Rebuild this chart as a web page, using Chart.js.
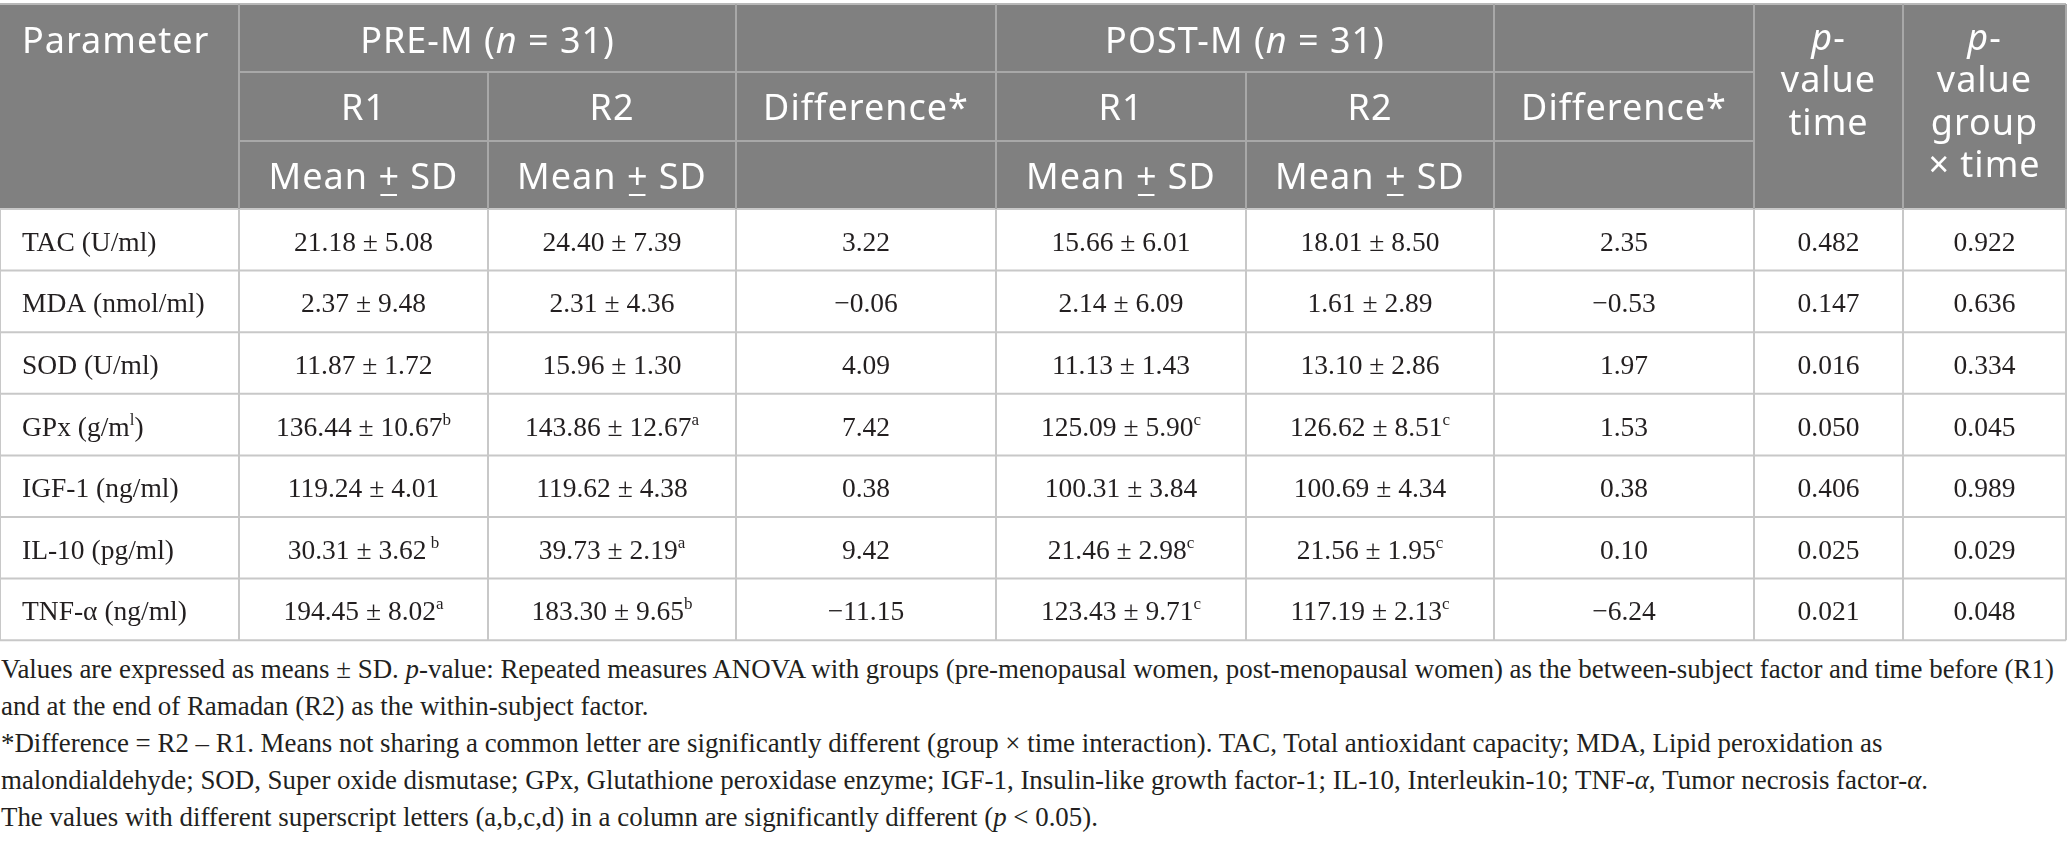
<!DOCTYPE html>
<html>
<head>
<meta charset="utf-8">
<script src="https://cdn.jsdelivr.net/npm/chart.js@4.4.1/dist/chart.umd.min.js"></script>
<style>
  html, body { margin: 0; padding: 0; background: #fff; overflow: hidden; }
  #wrap { position: relative; width: 2068px; height: 642px; }
  .notes {
    font-family: "Liberation Serif", "DejaVu Serif", serif;
    font-size: 26.9px;
    line-height: 37px;
    color: #231f20;
    white-space: nowrap;
    margin: 9px 0 0 1px;
  }
</style>
</head>
<body>
<div id="wrap"><canvas id="table-chart"></canvas></div>
<div class="notes">
  Values are expressed as means ± SD. <i>p</i>-value: Repeated measures ANOVA with groups (pre-menopausal women, post-menopausal women) as the between-subject factor and time before (R1)<br>
  and at the end of Ramadan (R2) as the within-subject factor.<br>
  *Difference = R2 – R1. Means not sharing a common letter are significantly different (group × time interaction). TAC, Total antioxidant capacity; MDA, Lipid peroxidation as<br>
  malondialdehyde; SOD, Super oxide dismutase; GPx, Glutathione peroxidase enzyme; IGF-1, Insulin-like growth factor-1; IL-10, Interleukin-10; TNF-<i>α</i>, Tumor necrosis factor-<i>α</i>.<br>
  The values with different superscript letters (a,b,c,d) in a column are significantly different (<i>p</i> &lt; 0.05).
</div>
<script>
// table data
const parameters = ["TAC (U/ml)", "MDA (nmol/ml)", "SOD (U/ml)", "GPx (g/m^l)", "IGF-1 (ng/ml)", "IL-10 (pg/ml)", "TNF-α (ng/ml)"];

const preR1Mean = [21.18, 2.37, 11.87, 136.44, 119.24, 30.31, 194.45];
const preR1Sd   = [5.08, 9.48, 1.72, 10.67, 4.01, 3.62, 8.02];
const preR1Sup  = ["", "", "", "b", "", " b", "a"];

const preR2Mean = [24.40, 2.31, 15.96, 143.86, 119.62, 39.73, 183.30];
const preR2Sd   = [7.39, 4.36, 1.30, 12.67, 4.38, 2.19, 9.65];
const preR2Sup  = ["", "", "", "a", "", "a", "b"];

const preDiff = [3.22, -0.06, 4.09, 7.42, 0.38, 9.42, -11.15];

const postR1Mean = [15.66, 2.14, 11.13, 125.09, 100.31, 21.46, 123.43];
const postR1Sd   = [6.01, 6.09, 1.43, 5.90, 3.84, 2.98, 9.71];
const postR1Sup  = ["", "", "", "c", "", "c", "c"];

const postR2Mean = [18.01, 1.61, 13.10, 126.62, 100.69, 21.56, 117.19];
const postR2Sd   = [8.50, 2.89, 2.86, 8.51, 4.34, 1.95, 2.13];
const postR2Sup  = ["", "", "", "c", "", "c", "c"];

const postDiff = [2.35, -0.53, 1.97, 1.53, 0.38, 0.10, -6.24];

const pTime      = [0.482, 0.147, 0.016, 0.050, 0.406, 0.025, 0.021];
const pGroupTime = [0.922, 0.636, 0.334, 0.045, 0.989, 0.029, 0.048];

const groupLabels = ["PRE-M", "POST-M"];
const groupN = [31, 31];
const subLabels = ["R1", "R2", "Difference*"];

// layout (pixels on the chart's own scales)
const layout = {
  width: 2068,
  height: 642,
  colEdges: [0, 239, 488, 736, 996, 1246, 1494, 1754, 1903, 2066],
  headRows: [4, 72, 141, 209],
  rowH: 61.6
};

const headFont = { family: '"Noto Sans", "Open Sans", sans-serif', size: 36, color: "#ffffff", spacing: "1px" };
const bodyFont = { family: '"Liberation Serif", "DejaVu Serif", serif', size: 27.5, color: "#231f20", spacing: "0px" };

function fmtNum(v, digits) {
  const s = Math.abs(v).toFixed(digits);
  return v < 0 ? "\u2212" + s : s;
}

function meanSd(mean, sd, sup) {
  const parts = [{ t: mean.toFixed(2) + " ± " + sd.toFixed(2) }];
  if (sup) parts.push({ t: sup, sup: true });
  return parts;
}

function parseLabel(s) {
  // "^x" marks a one-letter superscript
  const bits = s.split(/\^(.)/);
  return bits.map((t, i) => ({ t, sup: i % 2 === 1 })).filter(p => p.t);
}

function drawRich(ctx, parts, x, y, align, font) {
  ctx.letterSpacing = font.spacing;
  const pieces = parts.map(p => {
    const size = p.sup ? Math.round(font.size * 0.6) : font.size;
    const f = (p.italic ? "italic " : "") + size + "px " + font.family;
    ctx.font = f;
    return { p, f, w: ctx.measureText(p.t).width };
  });
  const total = pieces.reduce((s, q) => s + q.w, 0);
  let cx = align === "center" ? x - total / 2 : x;
  ctx.fillStyle = font.color;
  ctx.textAlign = "left";
  ctx.textBaseline = "alphabetic";
  pieces.forEach(q => {
    ctx.font = q.f;
    const dy = q.p.sup ? -font.size * 0.4 : 0;
    ctx.fillText(q.p.t, cx, y + dy);
    if (q.p.underline) ctx.fillRect(cx + 2, y + 5, q.w - 5, 2);
    cx += q.w;
  });
  ctx.letterSpacing = "0px";
}

const tablePlugin = {
  id: "tablePlugin",
  afterDraw(chart) {
    const ctx = chart.ctx;
    const xs = chart.scales.x, ys = chart.scales.y;
    const X = v => xs.getPixelForValue(v);
    const Y = v => ys.getPixelForValue(v);
    const E = layout.colEdges;
    const H = layout.headRows;
    const nRows = parameters.length;
    const bodyBottom = H[3] + nRows * layout.rowH;
    const mid = i => (X(E[i]) + X(E[i + 1])) / 2;

    ctx.save();
    // header background
    ctx.fillStyle = "#808080";
    ctx.fillRect(X(E[0]), Y(H[0]), X(E[9]) - X(E[0]), Y(H[3]) - Y(H[0]));

    const line = (x1, y1, x2, y2, c) => {
      ctx.strokeStyle = c;
      ctx.lineWidth = 2;
      ctx.beginPath();
      ctx.moveTo(x1, y1);
      ctx.lineTo(x2, y2);
      ctx.stroke();
    };

    // body grid
    const bodyLine = "#c8c8c8";
    for (let r = 0; r <= nRows; r++) {
      const y = Y(H[3] + r * layout.rowH);
      line(X(E[0]), y, X(E[9]), y, bodyLine);
    }
    E.forEach(e => line(X(e), Y(H[3]), X(e), Y(bodyBottom), bodyLine));

    // header grid
    const headLine = "#a8a8a8";
    line(X(E[0]), Y(H[0]), X(E[9]), Y(H[0]), "#b8b8b8");
    line(X(E[1]), Y(H[1]), X(E[7]), Y(H[1]), headLine);
    line(X(E[1]), Y(H[2]), X(E[7]), Y(H[2]), headLine);
    [1, 3, 4, 6, 7, 8].forEach(i => line(X(E[i]), Y(H[0]), X(E[i]), Y(H[3]), headLine));
    [2, 5].forEach(i => line(X(E[i]), Y(H[1]), X(E[i]), Y(H[3]), headLine));
    line(X(E[9]), Y(H[0]), X(E[9]), Y(H[3]), headLine);

    // header text
    const base = [Y(53), Y(120), Y(189)];
    drawRich(ctx, [{ t: "Parameter" }], X(22), base[0], "left", headFont);
    [0, 1].forEach(g => {
      const c0 = 1 + g * 3;
      const cx = (X(E[c0]) + X(E[c0 + 2])) / 2;
      drawRich(ctx, [{ t: groupLabels[g] + " (" }, { t: "n", italic: true }, { t: " = " + groupN[g] + ")" }], cx, base[0], "center", headFont);
      subLabels.forEach((s, k) => drawRich(ctx, [{ t: s }], mid(c0 + k), base[1], "center", headFont));
      [0, 1].forEach(k => drawRich(ctx, [{ t: "Mean " }, { t: "+", underline: true }, { t: " SD" }], mid(c0 + k), base[2], "center", headFont));
    });
    const pLines = [
      [[{ t: "p", italic: true }, { t: "-" }], [{ t: "value" }], [{ t: "time" }]],
      [[{ t: "p", italic: true }, { t: "-" }], [{ t: "value" }], [{ t: "group" }], [{ t: "× time" }]]
    ];
    pLines.forEach((lines, k) => {
      lines.forEach((parts, j) => drawRich(ctx, parts, mid(7 + k), Y(50 + j * 42.3), "center", headFont));
    });

    // body text
    const cols = [
      i => meanSd(preR1Mean[i], preR1Sd[i], preR1Sup[i]),
      i => meanSd(preR2Mean[i], preR2Sd[i], preR2Sup[i]),
      i => [{ t: fmtNum(preDiff[i], 2) }],
      i => meanSd(postR1Mean[i], postR1Sd[i], postR1Sup[i]),
      i => meanSd(postR2Mean[i], postR2Sd[i], postR2Sup[i]),
      i => [{ t: fmtNum(postDiff[i], 2) }],
      i => [{ t: pTime[i].toFixed(3) }],
      i => [{ t: pGroupTime[i].toFixed(3) }]
    ];
    parameters.forEach((p, i) => {
      const y = Y(H[3] + i * layout.rowH + layout.rowH / 2 + 11);
      drawRich(ctx, parseLabel(p), X(22), y, "left", bodyFont);
      cols.forEach((fn, c) => drawRich(ctx, fn(i), mid(c + 1), y, "center", bodyFont));
    });
    ctx.restore();
  }
};

new Chart(document.getElementById("table-chart"), {
  type: "scatter",
  data: { datasets: [{ data: [], pointRadius: 0 }] },
  options: {
    responsive: true,
    maintainAspectRatio: false,
    animation: false,
    layout: { padding: 0 },
    plugins: { legend: { display: false }, tooltip: { enabled: false } },
    scales: {
      x: { type: "linear", min: 0, max: layout.width, display: false },
      y: { type: "linear", min: 0, max: layout.height, reverse: true, display: false }
    }
  },
  plugins: [tablePlugin]
});
</script>
</body>
</html>
